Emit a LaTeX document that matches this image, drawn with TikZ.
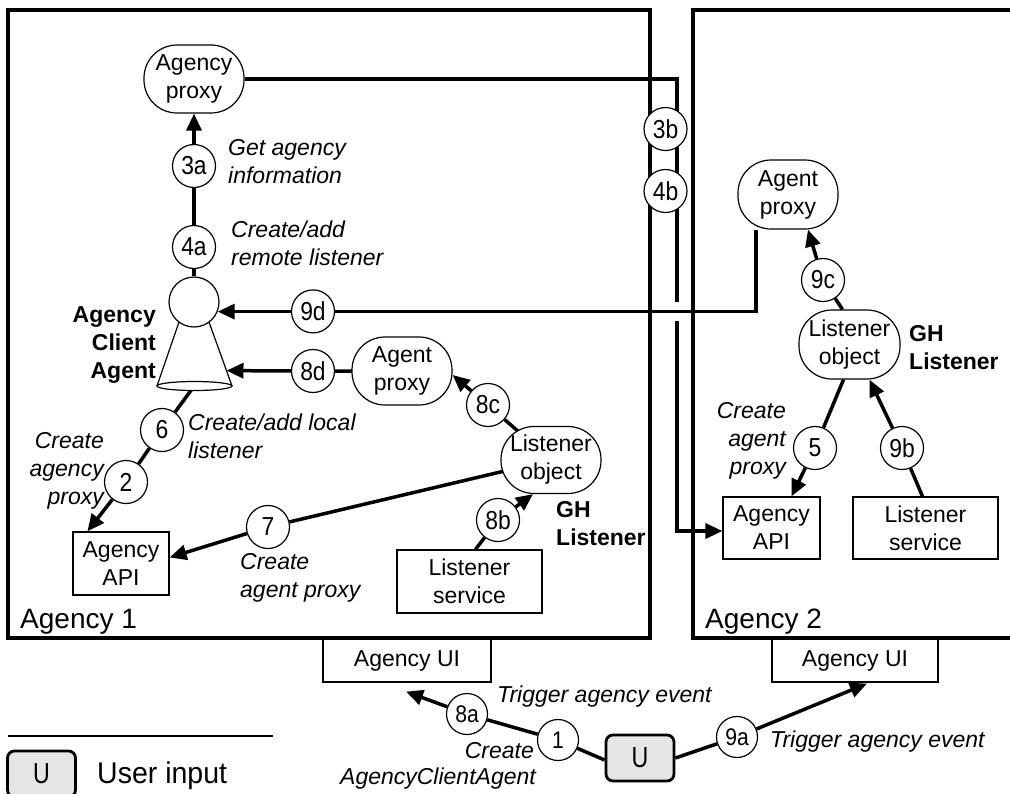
\documentclass[tikz,border=0pt]{standalone}
\usepackage{fontspec}
\setmainfont{Liberation Sans}
\newfontfamily\numfont[FakeStretch=0.88]{Liberation Sans}
\newfontfamily\ufont[FakeStretch=0.8]{Liberation Sans}
\newfontfamily\legfont[FakeStretch=0.95]{Liberation Sans}
\usetikzlibrary{arrows.meta,calc}
\pgfdeclarelayer{bg}
\pgfsetlayers{bg,main}
\begin{document}
\begin{tikzpicture}[x=1pt,y=-1pt,
  txt/.style={font=\fontsize{23}{28}\selectfont, inner sep=0pt, align=center},
  obj/.style={draw, line width=1.2pt, rounded corners=33pt, minimum width=100pt, minimum height=68pt, fill=white, txt},
  rbox/.style={draw, line width=1.2pt, fill=white, txt},
  num/.style={circle, draw, line width=1.2pt, fill=white, minimum size=43pt, inner sep=0pt, font=\numfont\fontsize{26}{26}\selectfont},
  bnum/.style={num, minimum size=41pt, font=\numfont\fontsize{24}{24}\selectfont},
  conn/.style={line width=3.5pt},
  arr/.style={conn, -{Triangle[length=17pt,width=15pt]}},
  lbl/.style={font=\fontsize{23}{28}\selectfont\itshape, inner sep=0pt},
  blbl/.style={font=\fontsize{23}{28}\selectfont\bfseries, inner sep=0pt},
  big/.style={font=\fontsize{28}{32}\selectfont, inner sep=0pt},
  agencybox/.style={draw, line width=3.5pt},
  ubox/.style={draw, rounded corners=7pt, line width=2.8pt, fill=black!10, minimum width=68pt, minimum height=46pt, inner sep=0pt, font=\ufont\fontsize{29}{29}\selectfont}
]
\useasboundingbox (0,0) rectangle (1010,793);

% ---------- nodes ----------
\node[obj] (ap1) at (194,79) {Agency\\proxy};
\node[obj] (ap1b) at (402,371) {Agent\\proxy};
\node[obj, minimum height=67pt] (lo1) at (551,460) {Listener\\object};
\node[rbox, minimum width=145pt, minimum height=63pt] (ls1) at (469.5,581.5) {Listener\\service};
\node[rbox, minimum width=96pt, minimum height=63pt] (api1) at (121,563.5) {Agency\\API};
\node[rbox, fill=none, minimum width=168pt, minimum height=43pt] (ui1) at (407,660.5) {Agency UI};

\node[obj, minimum height=69pt] (ap2) at (788,194.5) {Agent\\proxy};
\node[obj, minimum width=101pt, minimum height=69pt] (lo2) at (849.5,344.5) {Listener\\object};
\node[rbox, minimum width=97pt, minimum height=62pt] (api2) at (771.5,528) {Agency\\API};
\node[rbox, minimum width=145pt, minimum height=62pt] (ls2) at (925.5,528) {Listener\\service};
\node[rbox, fill=none, minimum width=166pt, minimum height=43pt] (ui2) at (855,660.5) {Agency UI};

\node[ubox] (u) at (640,758) {U};

% cone (Agency Client Agent)
\coordinate (clt) at (179,322);
\coordinate (crt) at (209,322);
\coordinate (clb) at (157,386);
\coordinate (crb) at (232,386);
\coordinate (cb) at (194.5,386);
\fill[white] (clt) -- (clb) -- (crb) -- (crt) -- cycle;
\draw[line width=1.2pt] (clt) -- (clb) (crt) -- (crb);
\draw[line width=1.2pt, fill=white] (cb) ellipse [x radius=37.5, y radius=4.5];
\node[circle, draw, line width=1.2pt, fill=white, minimum size=50pt, inner sep=0pt] (head) at (194,302) {};
\coordinate (coneR) at ($(crt)!0.76!(crb)$);
\coordinate (coneB) at (192,389);

% step circles
\node[num] (c3a) at (194,166) {3a};
\node[num] (c4a) at (194,247) {4a};
\node[num] (c3b) at (665.5,129) {3b};
\node[num] (c4b) at (665.5,191) {4b};
\node[num] (c9d) at (313,311.4) {9d};
\node[num] (c8d) at (313,371) {8d};
\node[num] (c8c) at (488,405) {8c};
\node[num] (c6) at (162,430) {6};
\node[num] (c2) at (126,482) {2};
\node[num] (c7) at (268,527) {7};
\node[num] (c8b) at (498,520) {8b};
\node[num] (c9c) at (823,280) {9c};
\node[num] (c5) at (815,448) {5};
\node[num] (c9b) at (902,448) {9b};
\node[bnum] (c8a) at (467,714) {8a};
\node[bnum] (c1) at (558,740) {1};
\node[bnum] (c9a) at (737,737) {9a};

% route coordinates
\coordinate (k1) at (677,79);
\coordinate (k2) at (677,302);
\coordinate (k3) at (677,321);
\coordinate (k4) at (677,531);
\coordinate (j9) at ($(ap2.south)+(-32,0)$);
\coordinate (t8a) at ($(ui1.south)+(-1,9)$);
\coordinate (t9a) at ($(ui2.south)+(12,1)$);

% ---------- background: agency boxes and connectors ----------
\begin{pgfonlayer}{bg}
  \begin{scope}
    \clip (0,0) rectangle (1010,793);
    \draw[agencybox] (8,10) rectangle (650,638);
    \draw[agencybox] (693,10) rectangle (1040,638);
  \end{scope}
  \draw[line width=1.2pt] (8,736) -- (273,736);

  \draw[arr] (head.north) -- (c4a) -- (c3a) -- (ap1.south);
  \draw[conn] (ap1.east) -- (k1) -- (k2);
  \draw[arr] (k3) -- (k4) -- (k4 -| api2.west);
  \draw[arr] (j9) |- (head.338);
  \draw[arr] (ap1b.center) -- (c8d) -- (coneR);
  \draw[arr] (lo1.center) -- (c8c) -- ($(ap1b.east)+(0,4)$);
  \draw[arr] ($(ls1.north)+(6,0)$) -- (c8b) -- ($(lo1.south)+(-18,0)$);
  \draw[arr] (lo1.center) -- (c7) -- ($(api1.east)+(0,-6)$);
  \draw[arr] (coneB) -- (c6) -- (c2) -- ($(api1.north west)+(15,0)$);
  \draw[arr] ($(lo2.north)+(-7,0)$) -- (c9c) -- ($(ap2.south)+(20,0)$);
  \draw[arr] ($(lo2.south)+(-6,0)$) -- (c5) -- ($(api2.north)+(20,0)$);
  \draw[arr] ($(ls2.north)+(-3,0)$) -- (c9b) -- ($(lo2.south)+(20,0)$);
  \draw[arr] ($(u.west)+(0,2)$) -- (c1) -- (c8a) -- (t8a);
  \draw[arr] (u.east) -- (c9a) -- (t9a);
\end{pgfonlayer}

% ---------- labels ----------
\node[lbl, anchor=west, align=left] (l3a) at (228,162) {Get agency\\information};
\node[lbl, anchor=west, align=left] (l4a) at (231,243) {Create/add\\remote listener};
\node[lbl, anchor=west, align=left] (l6) at (188,436) {Create/add local\\listener};
\node[lbl, anchor=east, align=right] (l2) at (104,471) {Create\\agency\\proxy};
\node[blbl, anchor=east, align=right] (lcag) at (156,345) {Agency\\Client\\Agent};
\node[lbl, anchor=west, align=left] (l7) at (240,578) {Create\\agent proxy};
\node[blbl, anchor=west, align=left] (gh1) at (556,524) {GH\\Listener};
\node[blbl, anchor=west, align=left] (gh2) at (909,348) {GH\\Listener};
\node[lbl, anchor=east, align=right] (l5) at (786,441) {Create\\agent\\proxy};
\node[lbl, anchor=west] (l8a) at (497,697) {Trigger agency event};
\node[lbl, anchor=west] (l9a) at (770,742) {Trigger agency event};
\node[lbl, anchor=base east] (l1a) at (534,758) {Create};
\node[lbl, anchor=base east] (l1b) at (536,784) {AgencyClientAgent};
\node[big, anchor=base west] (ag1) at (20,628) {Agency 1};
\node[big, anchor=base west] (ag2) at (705,628) {Agency 2};

% legend
\node[ubox] (lu) at (41.5,774) {U};
\node[big, anchor=base west, font=\legfont\fontsize{30}{32}\selectfont] (lut) at (97,783) {User input};
\end{tikzpicture}
\end{document}
